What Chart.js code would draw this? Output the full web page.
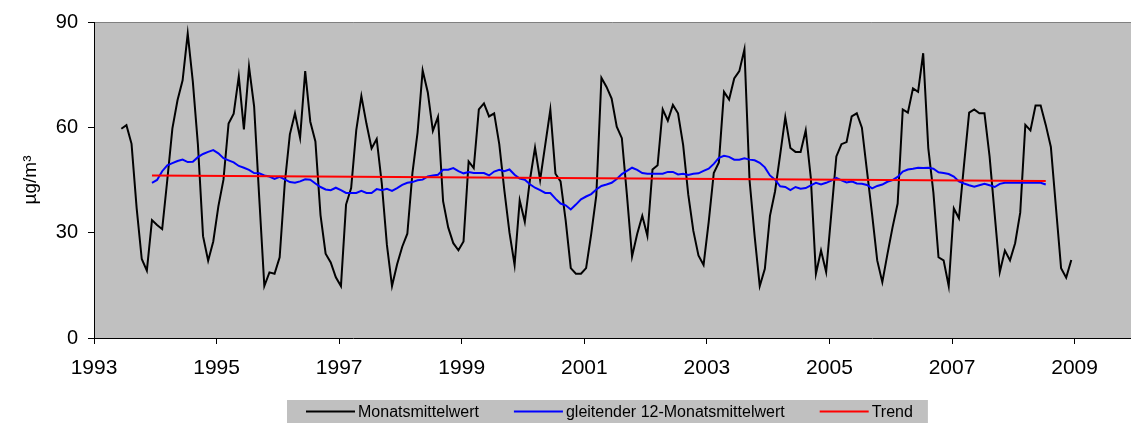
<!DOCTYPE html>
<html lang="de">
<head>
<meta charset="utf-8">
<title>Monatsmittelwerte</title>
<script src="https://cdn.jsdelivr.net/npm/chart.js@4.4.1/dist/chart.umd.min.js"></script>
<style>
    html, body { margin: 0; padding: 0; background: #ffffff; }
    #wrap { width: 1131px; height: 423px; }
</style>
</head>
<body>
<div id="wrap"><canvas id="chart" width="1131" height="423"></canvas></div>
<script>
// Monatsmittelwerte ab Juni 1993
const monthlyStart = { year: 1993, month: 6 };
const monthlyValues = [
    59.6, 60.6, 55.3, 37.0, 22.5, 19.2, 33.6,                          // 1993 Jun-Dez
    32.2, 31.0, 45.0, 59.7, 67.7, 73.4, 86.7, 73.0, 55.0, 29.0, 22.0, 27.5, // 1994
    37.5, 45.1, 61.1, 63.9, 74.5, 59.4, 77.3, 66.0, 40.0, 14.8, 18.7, 18.3, // 1995
    23.0, 44.0, 58.0, 64.0, 57.0, 76.0, 61.6, 56.0, 35.0, 24.0, 21.5, 17.3, // 1996
    14.8, 38.0, 42.7, 59.2, 68.9, 61.0, 54.0, 56.7, 44.0, 26.5, 14.8, 21.0, // 1997
    26.0, 29.7, 47.0, 58.5, 76.2, 70.0, 59.0, 63.0, 39.0, 31.5, 27.0, 25.0, // 1998
    27.5, 50.3, 48.4, 65.1, 66.8, 63.1, 64.0, 55.2, 42.0, 30.0, 20.8, 39.2, // 1999
    33.1, 45.0, 54.2, 45.0, 55.0, 65.0, 46.8, 44.6, 33.5, 19.9, 18.3, 18.3, // 2000
    19.9, 29.6, 40.6, 74.1, 71.5, 68.2, 60.2, 56.9, 40.6, 23.2, 29.6, 34.8, // 2001
    29.1, 48.0, 49.2, 65.1, 61.9, 66.4, 64.0, 55.0, 40.9, 30.5, 23.5, 20.8, // 2002
    33.0, 47.0, 50.0, 70.1, 67.9, 73.9, 76.0, 82.2, 45.0, 29.0, 14.8, 19.7, // 2003
    34.8, 41.8, 52.2, 62.9, 54.1, 53.0, 53.0, 59.1, 45.6, 18.3, 24.9, 18.8, // 2004
    35.2, 51.7, 55.2, 55.8, 63.1, 64.0, 59.9, 47.5, 35.2, 22.1, 15.9, 23.9, // 2005
    31.5, 38.3, 65.1, 64.2, 71.1, 70.1, 81.1, 54.1, 41.4, 23.0, 22.1, 14.8, // 2006
    36.9, 34.1, 49.4, 64.2, 65.1, 64.0, 64.0, 51.7, 35.2, 18.8, 24.9, 22.1, // 2007
    27.0, 35.7, 60.7, 59.1, 66.2, 66.2, 60.7, 54.4, 37.1, 19.9, 17.2, 22.2  // 2008
];

// gleitender 12-Monatsmittelwert ab Dezember 1993
const avgStart = { year: 1993, month: 12 };
const avgValues = [
    44.2,                                                                   // 1993 Dez
    45.0, 47.5, 49.2, 49.8, 50.4, 50.8, 50.1, 50.2, 51.5, 52.4, 53.0, 53.5, // 1994
    52.6, 51.2, 50.6, 50.0, 49.0, 48.5, 47.9, 47.0, 46.9, 46.3, 46.0, 45.3, // 1995
    45.9, 45.2, 44.4, 44.2, 44.6, 45.2, 45.1, 44.0, 43.0, 42.3, 42.1, 42.8, // 1996
    42.1, 41.3, 41.3, 41.3, 41.9, 41.3, 41.3, 42.4, 42.1, 42.5, 41.9, 42.7, // 1997
    43.6, 44.2, 44.4, 44.9, 45.1, 46.0, 46.3, 46.5, 47.9, 47.9, 48.4, 47.5, // 1998
    46.9, 47.3, 47.0, 47.0, 47.0, 46.3, 47.4, 47.9, 47.5, 48.0, 46.5, 45.4, // 1999
    45.1, 43.8, 42.8, 42.1, 41.3, 41.3, 39.7, 38.3, 37.8, 36.6, 38.0, 39.5, // 2000
    40.3, 41.0, 42.3, 43.3, 43.7, 44.2, 45.3, 46.7, 47.6, 48.5, 47.9, 47.0, // 2001
    46.8, 46.8, 46.8, 46.8, 47.3, 47.3, 46.6, 46.8, 46.4, 46.8, 46.9, 47.6, // 2002
    48.2, 49.6, 51.3, 51.9, 51.6, 50.8, 50.8, 51.2, 50.8, 50.6, 49.9, 48.6, // 2003
    46.3, 45.1, 43.2, 43.0, 42.1, 43.0, 42.5, 42.7, 43.5, 44.2, 43.7, 44.2, // 2004
    44.8, 45.6, 44.9, 44.3, 44.6, 44.0, 43.9, 43.6, 42.6, 43.3, 43.7, 44.5, // 2005
    45.0, 45.9, 47.4, 48.0, 48.2, 48.5, 48.4, 48.5, 48.2, 47.2, 47.0, 46.7, // 2006
    46.0, 44.6, 44.0, 43.5, 43.1, 43.5, 43.9, 43.5, 43.0, 43.9, 44.2, 44.2, // 2007
    44.2, 44.2, 44.2, 44.2, 44.2, 44.2, 43.7                                // 2008 Jan-Jul
];

// Trend: Anfangs- und Endwert
const trendMonths = [{ year: 1993, month: 12 }, { year: 2008, month: 7 }];
const trendValues = [46.3, 44.7];

// Achsen
const xTickYears = [1993, 1995, 1997, 1999, 2001, 2003, 2005, 2007, 2009];
const yTickValues = [0, 30, 60, 90];

const seriesNames = ['Monatsmittelwert', 'gleitender 12-Monatsmittelwert', 'Trend'];

// Monat -> Dezimaljahr (etwa Monatsmitte)
function toYear(start, offset) {
    const m = start.month - 1 + offset;
    return start.year + (m + 0.35) / 12;
}

function buildPoints(start, values) {
    return values.map((v, i) => ({ x: toYear(start, i), y: v }));
}

const fontFamily = '"Liberation Sans", Arial, Helvetica, sans-serif';

// grauer Hintergrund der Zeichenfläche
const plotBackground = {
    id: 'plotBackground',
    beforeDraw(chart) {
        const { ctx, chartArea } = chart;
        ctx.save();
        ctx.fillStyle = '#C0C0C0';
        ctx.fillRect(chartArea.left, chartArea.top, chartArea.right - chartArea.left, chartArea.bottom - chartArea.top);
        ctx.strokeStyle = '#808080';
        ctx.lineWidth = 1;
        ctx.beginPath();
        ctx.moveTo(chartArea.left, chartArea.top + 0.5);
        ctx.lineTo(chartArea.right, chartArea.top + 0.5);
        ctx.stroke();
        ctx.restore();
    }
};

// Legende im grauen Kasten unter dem Diagramm
const boxLegend = {
    id: 'boxLegend',
    afterDraw(chart) {
        const ctx = chart.ctx;
        const lineLen = 49, textGap = 3, itemGap = 35;
        const startX = 306, boxTop = 400, boxHeight = 23;
        const midY = boxTop + boxHeight / 2;
        ctx.save();
        ctx.font = '16px ' + fontFamily;
        const items = chart.data.datasets.map(ds => ({
            label: ds.label,
            color: ds.borderColor,
            width: ctx.measureText(ds.label).width
        }));
        let total = 0;
        items.forEach((it, i) => {
            total += lineLen + textGap + it.width + (i > 0 ? itemGap : 0);
        });
        ctx.fillStyle = '#C0C0C0';
        ctx.fillRect(startX - 19, boxTop, total + 19 + 15, boxHeight);

        let x = startX;
        ctx.textBaseline = 'middle';
        ctx.textAlign = 'left';
        items.forEach(it => {
            ctx.strokeStyle = it.color;
            ctx.lineWidth = 2;
            ctx.beginPath();
            ctx.moveTo(x, midY);
            ctx.lineTo(x + lineLen, midY);
            ctx.stroke();
            x += lineLen + textGap;
            ctx.fillStyle = '#000000';
            ctx.fillText(it.label, x, midY + 1);
            x += it.width + itemGap;
        });
        ctx.restore();
    }
};

document.addEventListener('DOMContentLoaded', function() {
    const ctx = document.getElementById('chart').getContext('2d');

    new Chart(ctx, {
        type: 'line',
        data: {
            datasets: [
                {
                    label: seriesNames[0],
                    data: buildPoints(monthlyStart, monthlyValues),
                    borderColor: '#000000',
                    borderWidth: 2,
                    pointRadius: 0,
                    tension: 0,
                    order: 3
                },
                {
                    label: seriesNames[1],
                    data: buildPoints(avgStart, avgValues),
                    borderColor: '#0000FF',
                    borderWidth: 2,
                    pointRadius: 0,
                    tension: 0,
                    order: 2
                },
                {
                    label: seriesNames[2],
                    data: trendMonths.map((m, i) => ({ x: toYear(m, 0), y: trendValues[i] })),
                    borderColor: '#FF0000',
                    borderWidth: 2,
                    pointRadius: 0,
                    tension: 0,
                    order: 1
                }
            ]
        },
        options: {
            responsive: false,
            animation: false,
            layout: { padding: { top: 19, right: 0, bottom: 0, left: 0 } },
            plugins: {
                legend: { display: false },
                tooltip: { enabled: false }
            },
            scales: {
                x: {
                    type: 'linear',
                    min: 1993,
                    max: 2009.92,
                    afterBuildTicks: scale => {
                        scale.ticks = xTickYears.map(v => ({ value: v }));
                    },
                    afterFit: scale => { scale.height = 85; },
                    grid: { drawOnChartArea: false, drawTicks: true, tickLength: 6, color: '#000000' },
                    border: { display: true, color: '#000000', width: 1 },
                    ticks: {
                        autoSkip: false,
                        maxRotation: 0,
                        padding: 12,
                        color: '#000000',
                        font: { family: fontFamily, size: 21 },
                        callback: v => String(v)
                    }
                },
                y: {
                    min: 0,
                    max: 90,
                    afterBuildTicks: scale => {
                        scale.ticks = yTickValues.map(v => ({ value: v }));
                    },
                    afterFit: scale => { scale.width = 94; },
                    grid: { drawOnChartArea: false, drawTicks: true, tickLength: 6, color: '#000000' },
                    border: { display: true, color: '#000000', width: 1 },
                    ticks: {
                        padding: 10,
                        color: '#000000',
                        font: { family: fontFamily, size: 20 },
                        callback: v => String(v)
                    },
                    title: {
                        display: true,
                        text: 'µg/m³',
                        color: '#000000',
                        font: { family: fontFamily, size: 19 },
                        padding: { top: 19, bottom: 0 }
                    }
                }
            }
        },
        plugins: [plotBackground, boxLegend]
    });
});
</script>
</body>
</html>
